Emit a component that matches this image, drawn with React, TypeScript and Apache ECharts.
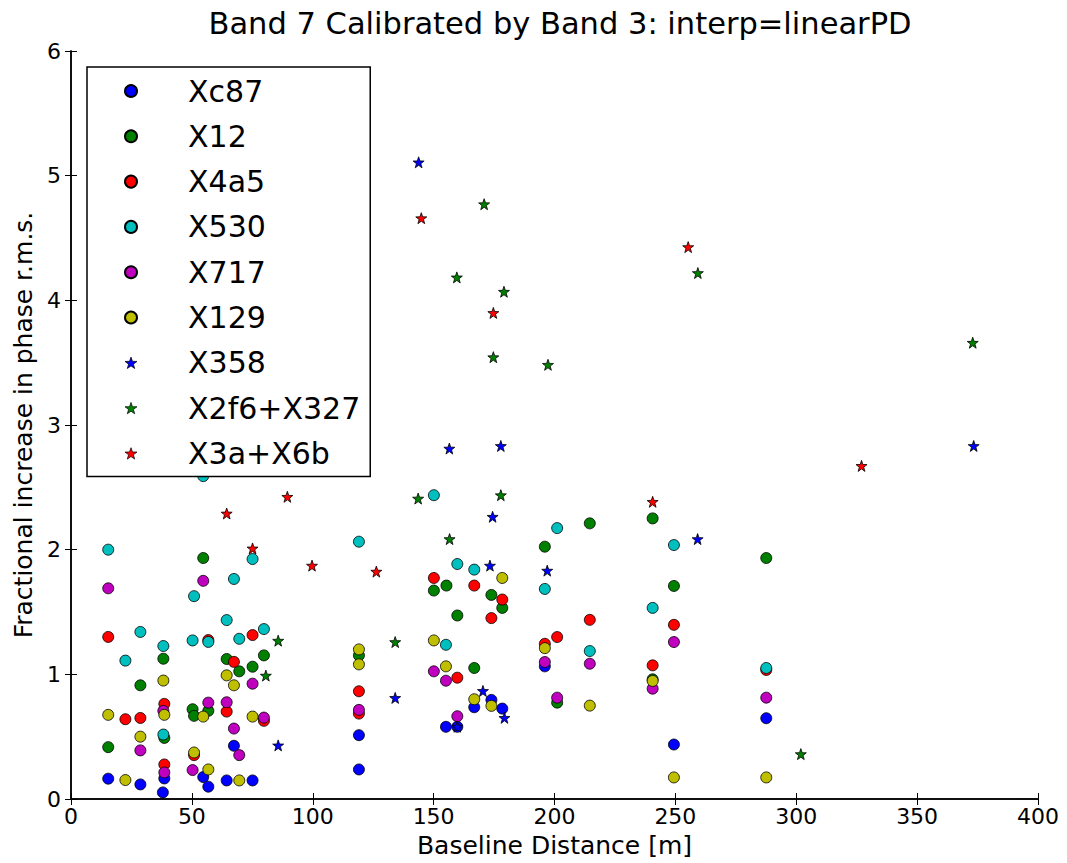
import React, { useEffect, useRef } from "react";
import * as echarts from "echarts";

const xTicks = [0, 50, 100, 150, 200, 250, 300, 350, 400];
const yTicks = [0, 1, 2, 3, 4, 5, 6];

const seriesNames = ["Xc87", "X12", "X4a5", "X530", "X717", "X129", "X358", "X2f6+X327", "X3a+X6b"];

const xc87 = [
  [15.4, 0.163], [28.7, 0.117], [38.6, 0.165], [38.0, 0.053], [54.7, 0.176], [56.8, 0.099],
  [64.4, 0.149], [67.4, 0.427], [75.1, 0.149], [119.1, 0.512], [119.1, 0.237], [155.1, 0.579],
  [159.8, 0.579], [166.8, 0.736], [173.9, 0.795], [178.4, 0.725], [196, 1.064], [249.4, 0.437],
  [287.6, 0.648],
];
const x12 = [
  [15.4, 0.416], [28.7, 0.912], [38.2, 1.125], [38.6, 0.49], [50.3, 0.72], [50.9, 0.667],
  [54.7, 1.933], [56.8, 0.707], [64.4, 1.123], [69.6, 1.024], [75.1, 1.061], [79.8, 1.152],
  [119.1, 1.152], [150.1, 1.672], [155.3, 1.712], [159.8, 1.472], [166.8, 1.051], [173.9, 1.637],
  [178.4, 1.533], [196, 2.024], [201.1, 0.773], [214.6, 2.211], [240.6, 2.251], [240.6, 0.96],
  [249.4, 1.709], [287.6, 1.933],
];
const x4a5 = [
  [15.4, 1.3], [22.5, 0.64], [28.7, 0.65], [38.6, 0.763], [38.6, 0.277], [50.9, 0.352],
  [56.8, 1.275], [64.4, 0.701], [67.4, 1.1], [75.1, 1.315], [79.8, 0.627], [119.1, 0.864],
  [119.1, 0.685], [150.1, 1.773], [159.8, 0.973], [166.8, 1.712], [173.9, 1.451], [178.4, 1.6],
  [196, 1.245], [201.1, 1.299], [214.6, 1.437], [240.6, 1.072], [249.4, 1.397], [287.6, 1.035],
];
const x530 = [
  [15.4, 2.0], [22.5, 1.11], [28.7, 1.34], [38.2, 1.227], [38.2, 0.517], [50.9, 1.627],
  [50.3, 1.272], [54.7, 2.59], [56.8, 1.26], [64.4, 1.435], [67.4, 1.765], [69.6, 1.285],
  [75.1, 1.925], [79.8, 1.363], [119.1, 2.064], [150.1, 2.437], [155.1, 1.237], [159.8, 1.885],
  [166.8, 1.84], [196, 1.685], [201.1, 2.173], [214.6, 1.187], [240.6, 1.533], [249.4, 2.037],
  [287.6, 1.051],
];
const x717 = [
  [15.4, 1.69], [28.7, 0.39], [38.2, 0.707], [38.6, 0.213], [50.3, 0.232], [54.7, 1.75],
  [56.8, 0.773], [64.4, 0.776], [67.4, 0.565], [69.6, 0.352], [75.1, 0.925], [79.8, 0.653],
  [119.1, 0.715], [150.1, 1.024], [155.1, 0.949], [159.8, 0.664], [196, 1.099], [201.1, 0.813],
  [214.6, 1.085], [240.6, 0.885], [249.4, 1.259], [287.6, 0.813],
];
const x129 = [
  [15.4, 0.675], [22.5, 0.152], [28.7, 0.5], [38.2, 0.95], [38.6, 0.675], [50.9, 0.373],
  [54.7, 0.661], [56.8, 0.237], [64.4, 0.992], [67.4, 0.912], [69.6, 0.149], [75.1, 0.661],
  [119.1, 1.2], [119.1, 1.08], [150.1, 1.272], [155.1, 1.064], [166.8, 0.8], [173.9, 0.747],
  [178.4, 1.773], [196, 1.21], [214.6, 0.749], [240.6, 0.947], [249.4, 0.173], [287.6, 0.173],
];
const x358 = [
  [85.7, 0.43], [134.1, 0.811], [143.8, 5.107], [156.5, 2.811], [159.8, 0.58], [170.4, 0.867],
  [173.3, 1.872], [174.4, 2.264], [177.8, 2.832], [179.3, 0.651], [197, 1.832], [259.2, 2.085],
  [373.4, 2.832],
];
const x2f6x327 = [
  [80.6, 0.99], [85.7, 1.27], [134.1, 1.259], [143.6, 2.41], [156.6, 2.085], [159.6, 4.184],
  [170.9, 4.771], [174.7, 3.544], [177.8, 2.437], [179.1, 4.069], [197.3, 3.483], [259.3, 4.219],
  [301.9, 0.36], [373, 3.66],
];
const x3ax6b = [
  [64.4, 2.29], [75.1, 2.01], [89.5, 2.424], [99.7, 1.872], [126.3, 1.824], [144.9, 4.659],
  [174.7, 3.899], [240.6, 2.384], [255.3, 4.427], [327, 2.672],
];

const seriesData = [xc87, x12, x4a5, x530, x717, x129, x358, x2f6x327, x3ax6b];
const colors = ["#0000ff", "#008000", "#ff0000", "#00bfbf", "#bf00bf", "#bfbf00", "#0000ff", "#008000", "#ff0000"];
const isStar = [false, false, false, false, false, false, true, true, true];

const STAR = "path://M0,-10 L2.35,-3.24 L9.51,-3.09 L3.8,1.24 L5.88,8.09 L0,4 L-5.88,8.09 L-3.8,1.24 L-9.51,-3.09 L-2.35,-3.24 Z";

const FONT = "DejaVu Sans";

export default function App() {
  const ref = useRef<HTMLDivElement>(null);
  useEffect(() => {
    if (!ref.current) return;
    const chart = echarts.init(ref.current, undefined, { renderer: "svg" });
    const axisLine = { show: true, lineStyle: { color: "#000", width: 1.5 } };
    const tick = { show: true, inside: true, length: 6, lineStyle: { color: "#000", width: 1 } };
    chart.setOption({
      animation: false,
      backgroundColor: "#fff",
      title: {
        text: "Band 7 Calibrated by Band 3: interp=linearPD",
        left: 555,
        top: 3,
        textAlign: "center",
        textStyle: { fontFamily: FONT, fontSize: 30.5, fontWeight: "normal", color: "#000" },
      },
      grid: { left: 71, right: 29, top: 51, bottom: 62, containLabel: false },
      legend: {
        orient: "vertical",
        left: 87,
        top: 67,
        padding: [9, 10, 8, 37],
        itemWidth: 12,
        itemHeight: 12,
        itemGap: 15.3,
        backgroundColor: "#fff",
        borderColor: "#000",
        borderWidth: 1.5,
        borderRadius: 0,
        z: 10,
        textStyle: {
          fontFamily: FONT,
          fontSize: 30,
          color: "#000",
          lineHeight: 30,
          padding: [0, 0, 0, 46],
        },
        data: seriesNames.map((n, i) => ({
          name: n,
          icon: isStar[i] ? STAR : "circle",
          itemStyle: isStar[i]
            ? { color: colors[i], borderColor: "#000", borderWidth: 0.7 }
            : undefined,
        })),
      },
      xAxis: [
        {
          type: "value",
          min: 0,
          max: 400,
          interval: 50,
          position: "bottom",
          name: "Baseline Distance [m]",
          nameLocation: "middle",
          nameGap: 34,
          nameTextStyle: { fontFamily: FONT, fontSize: 25, color: "#000" },
          axisLine,
          axisTick: tick,
          splitLine: { show: false },
          axisLabel: { fontFamily: FONT, fontSize: 22, color: "#000", margin: 6 },
        },
        {
          type: "value",
          min: 0,
          max: 400,
          interval: 50,
          position: "top",
          axisLine,
          axisTick: tick,
          splitLine: { show: false },
          axisLabel: { show: false },
        },
      ],
      yAxis: [
        {
          type: "value",
          min: 0,
          max: 6,
          interval: 1,
          position: "left",
          name: "Fractional increase in phase r.m.s.",
          nameLocation: "middle",
          nameGap: 34,
          nameTextStyle: { fontFamily: FONT, fontSize: 25, color: "#000" },
          axisLine,
          axisTick: tick,
          splitLine: { show: false },
          axisLabel: { fontFamily: FONT, fontSize: 22, color: "#000", margin: 10 },
        },
        {
          type: "value",
          min: 0,
          max: 6,
          interval: 1,
          position: "right",
          axisLine,
          axisTick: tick,
          splitLine: { show: false },
          axisLabel: { show: false },
        },
      ],
      series: seriesNames.map((n, i) => ({
        name: n,
        type: "scatter",
        xAxisIndex: 0,
        yAxisIndex: 0,
        data: seriesData[i],
        symbol: isStar[i] ? STAR : "circle",
        symbolSize: 11,
        itemStyle: { color: colors[i], borderColor: "#000", borderWidth: 0.8, opacity: 1 },
        emphasis: { disabled: true },
      })),
    });
    return () => chart.dispose();
  }, []);
  return (
    <div
      ref={ref}
      style={{ position: "fixed", left: 0, top: 0, width: 1067, height: 863 }}
    />
  );
}
